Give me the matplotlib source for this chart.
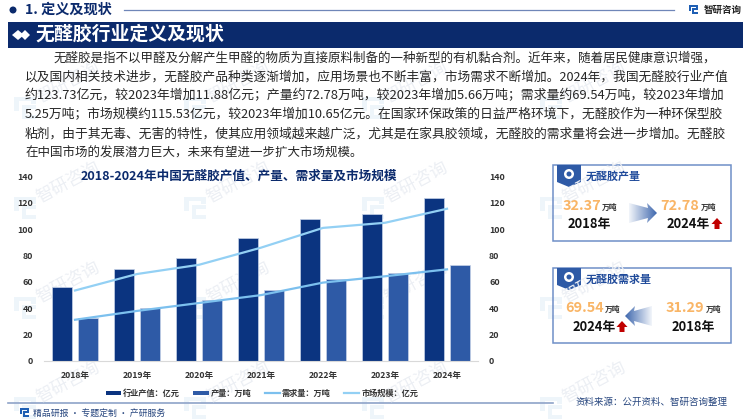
import numpy as np
import matplotlib
matplotlib.use("Agg")
import matplotlib.pyplot as plt
from matplotlib.patches import Rectangle, Polygon, Circle
from matplotlib.lines import Line2D
from matplotlib.patches import Patch

plt.rcParams['font.family'] = ['Noto Sans CJK SC', 'DejaVu Sans']

# chart data
years = ['2018年', '2019年', '2020年', '2021年', '2022年', '2023年', '2024年']
output_value = [56.5, 70.0, 78.5, 93.0, 107.85, 111.85, 123.73]
production = [32.37, 40.0, 46.0, 54.0, 62.0, 67.12, 72.78]
demand = [31.29, 38.0, 44.0, 50.0, 59.5, 64.29, 69.54]
market_size = [53.5, 66.0, 73.0, 86.0, 101.0, 104.88, 115.53]
y_ticks = [0, 20, 40, 60, 80, 100, 120, 140]

series_names = ['行业产值：亿元', '产量：万吨', '需求量：万吨', '市场规模：亿元']
chart_title = '2018-2024年中国无醛胶产值、产量、需求量及市场规模'

body_lines = [
    '无醛胶是指不以甲醛及分解产生甲醛的物质为直接原料制备的一种新型的有机黏合剂。近年来，随着居民健康意识增强，',
    '以及国内相关技术进步，无醛胶产品种类逐渐增加，应用场景也不断丰富，市场需求不断增加。2024年，我国无醛胶行业产值',
    '约123.73亿元，较2023年增加11.88亿元；产量约72.78万吨，较2023年增加5.66万吨；需求量约69.54万吨，较2023年增加',
    '5.25万吨；市场规模约115.53亿元，较2023年增加10.65亿元。在国家环保政策的日益严格环境下，无醛胶作为一种环保型胶',
    '粘剂，由于其无毒、无害的特性，使其应用领域越来越广泛，尤其是在家具胶领域，无醛胶的需求量将会进一步增加。无醛胶',
    '在中国市场的发展潜力巨大，未来有望进一步扩大市场规模。',
]
body_x = [54, 25, 25, 25, 25, 25]
body_end = [716, 725, 725, 725, 725, 361]
body_y = [58, 77, 96, 115, 134, 153]

navy = '#0b2a6c'
bar1 = '#0b3480'
bar2 = '#2e5aa6'
line1 = '#7cc0ee'
line2 = '#93d0f4'
orange = '#f9b566'
W, H = 750, 420

fig = plt.figure(figsize=(7.5, 4.2), dpi=100, facecolor='white')

# page layer in pixel coordinates
bg = fig.add_axes([0, 0, 1, 1], zorder=0)
bg.set_xlim(0, W)
bg.set_ylim(H, 0)
bg.axis('off')


def logo(ax, x, y, s, color):
    # small square brand mark
    parts = [(0, 0, 1, .2), (0, 0, .22, .62), (.35, .35, .65, .18), (.78, 0, .22, .3),
             (.35, .35, .2, .65), (.35, .82, .65, .18)]
    for px, py, pw, ph in parts:
        ax.add_patch(Rectangle((x + px * s, y + py * s), pw * s, ph * s, fc=color, ec='none'))


# watermark
for wy in [82, 182, 282, 382]:
    for wx in [68, 238, 416, 594]:
        bg.text(wx, wy, '智研咨询', fontsize=12.5, color='#eceff4', rotation=28, ha='center', va='center',
                rotation_mode='anchor')
        logo(bg, wx - 54, wy + 15, 22, '#eef5fa')

# top header
bg.add_patch(Circle((13, 10), 3.5, fc=navy, ec='none'))
bg.text(25, 10, '1. 定义及现状', fontsize=10.2, fontweight='bold', color=navy, va='center')
bg.plot([124, 674], [9.5, 9.5], color='#6f86b8', lw=0.9)
logo(bg, 689, 5, 9, '#1f5fb4')
bg.text(704, 9.5, '智研咨询', fontsize=6.8, fontweight='bold', color='#222222', va='center')
bg.add_patch(Rectangle((8, 22), 735, 26, fc=navy, ec='none'))
bg.add_patch(Polygon([(12, 35), (18, 30), (24, 35), (18, 40)], fc='white', ec='none'))
bg.add_patch(Polygon([(20, 35), (25, 30), (30, 35), (25, 40)], fc='white', ec='none'))
bg.text(35, 34.5, '无醛胶行业定义及现状', fontsize=13.6, fontweight='bold', color='white', va='center')

# each body line is scaled to end where the reference line ends
renderer = fig.canvas.get_renderer()
for line, x, x_end, y in zip(body_lines, body_x, body_end, body_y):
    t = bg.text(x, y, line, fontsize=9.3, color='#262626', va='center')
    t.set_fontsize(9.3 * (x_end - x) / t.get_window_extent(renderer).width)

bg.text(239, 176, chart_title, fontsize=9.1, fontweight='bold', color=navy, ha='center', va='center')

# footer
bg.plot([8, 553], [402.5, 402.5], color='#8ea3c8', lw=1.2)
logo(bg, 20, 408, 9, '#1f5fb4')
bg.text(33, 413, '精品研报 · 专题定制 · 产研服务', fontsize=6.4, color='#27467e', va='center')
bg.text(575, 402, '资料来源：公开资料、智研咨询整理', fontsize=6.8, color='#27467e', va='center')


def panel(ax, top, bottom, title):
    ax.add_patch(Rectangle((553, top), 178, bottom - top, fc='none', ec='#6f8fc8', lw=1.1))
    ax.add_patch(Polygon([(557, top), (581, top), (581, top + 17), (569, top + 22), (557, top + 17)],
                         fc=bar2, ec='none'))
    ax.add_patch(Circle((569, top + 9), 5, fc='white', ec='none'))
    ax.add_patch(Circle((569, top + 9), 2.5, fc=bar2, ec='none'))
    ax.text(586, top + 11, title, fontsize=7.9, fontweight='bold', color='#1f4a9a', va='center')


def arrow(ax, x0, x1, y, flip=False):
    # gradient block arrow pointing to x1
    grad = np.linspace(0, 1, 64).reshape(1, -1)
    if flip:
        grad = grad[:, ::-1]
    cmap = matplotlib.colors.LinearSegmentedColormap.from_list('a', ['#f2f5fa', '#3f68ae'])
    left, right = min(x0, x1), max(x0, x1)
    im = ax.imshow(grad, extent=(left, right, y + 14, y - 14), cmap=cmap, aspect='auto', zorder=2)
    d = 1 if x1 > x0 else -1
    pts = [(x0, y - 10), (x1 - d * 9, y - 5), (x1 - d * 10, y - 10), (x1, y), (x1 - d * 10, y + 10),
           (x1 - d * 9, y + 5), (x0, y + 10)]
    clip = Polygon(pts, transform=ax.transData, fc='none', ec='none')
    ax.add_patch(clip)
    im.set_clip_path(clip)


def red_up(ax, cx, y):
    pts = [(cx, y - 6), (cx + 5.5, y), (cx + 2.5, y), (cx + 2.5, y + 5), (cx - 2.5, y + 5), (cx - 2.5, y), (cx - 5.5, y)]
    ax.add_patch(Polygon(pts, fc='#c00000', ec='none', zorder=3))


panel(bg, 165, 241, '无醛胶产量')
panel(bg, 268, 343, '无醛胶需求量')

numbers = ['32.37', '72.78', '69.54', '31.29']
num_x = [563, 660, 565, 666]
num_y = [206, 206, 308, 308]
unit_x = [601.5, 701, 605, 706]
year_labels = ['2018年', '2024年', '2024年', '2018年']
year_x = [568, 667, 573, 672]
year_y = [224, 224, 327, 327]
for n, nx, ny, ux, yl, yx, yy in zip(numbers, num_x, num_y, unit_x, year_labels, year_x, year_y):
    bg.text(nx, ny, n, fontsize=10.4, fontweight='bold', color=orange, va='center')
    bg.text(ux, ny + 1, '万吨', fontsize=5.6, fontweight='bold', color='#333333', va='center')
    bg.text(yx, yy, yl, fontsize=9.3, fontweight='bold', color='#111111', va='center')
arrow(bg, 629, 657, 213)
arrow(bg, 652, 625, 316, flip=True)
red_up(bg, 717, 224)
red_up(bg, 622, 327)
bg.set_xlim(0, W)
bg.set_ylim(H, 0)

# main chart, plot area set so the 0..140 scale spans the reference pixels
x_left, x_right = 44, 478
y_top, y_bottom = 176.5, 361
ax = fig.add_axes([x_left / W, 1 - y_bottom / H, (x_right - x_left) / W, (y_bottom - y_top) / H], zorder=1)
ax.patch.set_alpha(0)
x = np.arange(len(years))
bw = 0.33
off = 0.21
ax.bar(x - off, output_value, bw, color=bar1, edgecolor='#c7d3e8', linewidth=0.5, zorder=2)
ax.bar(x + off, production, bw, color=bar2, edgecolor='#c7d3e8', linewidth=0.5, zorder=2)
ax.plot(x, demand, color=line1, lw=1.6, zorder=3)
ax.plot(x, market_size, color=line2, lw=1.6, zorder=3)
ax.set_xlim(-0.5, 6.5)
ax.set_ylim(0, 140)
ax.set_xticks(x)
ax.set_xticklabels(years, fontsize=6.2, fontweight='bold', color='#333333')
ax.set_yticks(y_ticks)
ax.tick_params(axis='both', length=0)
ax.tick_params(axis='x', pad=7)
ax.tick_params(axis='y', pad=8)
for lab in ax.get_yticklabels():
    lab.set_fontsize(6.4)
    lab.set_fontweight('bold')
    lab.set_color('#333333')
for s in ['top', 'left', 'right']:
    ax.spines[s].set_visible(False)
ax.spines['bottom'].set_color('#d9d9d9')

ax2 = ax.twinx()
ax2.set_ylim(0, 140)
ax2.set_yticks(y_ticks)
ax2.tick_params(axis='y', length=0, pad=8)
for lab in ax2.get_yticklabels():
    lab.set_fontsize(6.4)
    lab.set_fontweight('bold')
    lab.set_color('#333333')
for s in ax2.spines.values():
    s.set_visible(False)

handles = [Patch(fc=bar1), Patch(fc=bar2), Line2D([], [], color=line1, lw=1.6), Line2D([], [], color=line2, lw=1.6)]
leg = fig.legend(handles, series_names, ncol=4, frameon=False, loc='center', bbox_to_anchor=(262 / W, 1 - 393.5 / H),
                 prop={'size': 5.9, 'weight': 'bold'}, handlelength=1.85, handletextpad=0.25, columnspacing=1.65,
                 handleheight=0.5, labelcolor='#333333')

fig.savefig('out.png', dpi=100)
